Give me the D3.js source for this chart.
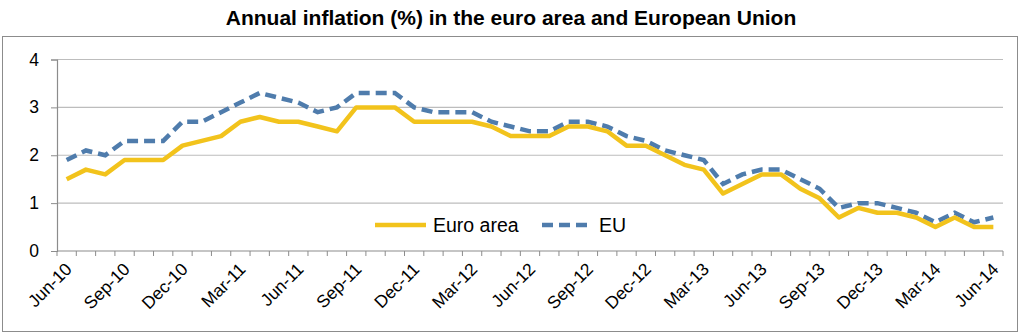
<!DOCTYPE html>
<html>
<head>
<meta charset="utf-8">
<script src="https://cdn.jsdelivr.net/npm/d3@7"></script>
<style>
body { margin: 0; background: #fff; font-family: "Liberation Sans", Arial, sans-serif; }
</style>
</head>
<body>
<script>
var width = 1024
var height = 334

// monthly, Jun-10 .. Jun-14
var months = ["Jun-10","Jul-10","Aug-10","Sep-10","Oct-10","Nov-10","Dec-10",
    "Jan-11","Feb-11","Mar-11","Apr-11","May-11","Jun-11","Jul-11","Aug-11","Sep-11","Oct-11","Nov-11","Dec-11",
    "Jan-12","Feb-12","Mar-12","Apr-12","May-12","Jun-12","Jul-12","Aug-12","Sep-12","Oct-12","Nov-12","Dec-12",
    "Jan-13","Feb-13","Mar-13","Apr-13","May-13","Jun-13","Jul-13","Aug-13","Sep-13","Oct-13","Nov-13","Dec-13",
    "Jan-14","Feb-14","Mar-14","Apr-14","May-14","Jun-14"]

var euroArea = [1.5,1.7,1.6,1.9,1.9,1.9,2.2,
    2.3,2.4,2.7,2.8,2.7,2.7,2.6,2.5,3.0,3.0,3.0,2.7,
    2.7,2.7,2.7,2.6,2.4,2.4,2.4,2.6,2.6,2.5,2.2,2.2,
    2.0,1.8,1.7,1.2,1.4,1.6,1.6,1.3,1.1,0.7,0.9,0.8,
    0.8,0.7,0.5,0.7,0.5,0.5]

var eu = [1.9,2.1,2.0,2.3,2.3,2.3,2.7,
    2.7,2.9,3.1,3.3,3.2,3.1,2.9,3.0,3.3,3.3,3.3,3.0,
    2.9,2.9,2.9,2.7,2.6,2.5,2.5,2.7,2.7,2.6,2.4,2.3,
    2.1,2.0,1.9,1.4,1.6,1.7,1.7,1.5,1.3,0.9,1.0,1.0,
    0.9,0.8,0.6,0.8,0.6,0.7]

var yTicks = [0, 1, 2, 3, 4]

var svg = d3.select("body")
    .append("svg")
    .attr("width", width)
    .attr("height", height)

// outer frame
svg.append("rect")
    .attr("x", 2.5).attr("y", 36.5)
    .attr("width", 1015).attr("height", 295)
    .attr("fill", "none")
    .attr("stroke", "#8c8c8c")
    .attr("stroke-width", 1)

svg.append("text")
    .attr("x", 511).attr("y", 25)
    .attr("text-anchor", "middle")
    .style("font-size", "21px")
    .style("font-weight", "bold")
    .text("Annual inflation (%) in the euro area and European Union")

var pLeft = 57, pRight = 1003, pTop = 59.5, pBottom = 251

var x_scale = d3.scaleBand()
    .domain(months)
    .range([pLeft, pRight])

var y_scale = d3.scaleLinear()
    .domain([0, 4])
    .range([pBottom, pTop])

// gridlines
svg.append("g")
    .selectAll("line")
    .data(yTicks.filter(d => d > 0))
    .enter()
    .append("line")
    .attr("x1", pLeft).attr("x2", pRight)
    .attr("y1", d => y_scale(d)).attr("y2", d => y_scale(d))
    .attr("stroke", "#bdbdbd")
    .attr("stroke-width", 1.2)

// y axis
var yAxis = svg.append("g")
    .attr("transform", "translate(" + pLeft + ",0)")
    .call(d3.axisLeft(y_scale).tickValues(yTicks).tickSize(6).tickPadding(12).tickFormat(d3.format("d")))
yAxis.select(".domain").attr("stroke", "#8c8c8c").attr("stroke-width", 1.2)
yAxis.selectAll(".tick line").attr("stroke", "#8c8c8c")
yAxis.selectAll("text").style("font-size", "17.5px").style("font-family", "Liberation Sans, Arial, sans-serif").attr("fill", "#000")

// x axis: ticks at category boundaries
var xg = svg.append("g")
xg.append("line")
    .attr("x1", pLeft).attr("x2", pRight)
    .attr("y1", pBottom).attr("y2", pBottom)
    .attr("stroke", "#8c8c8c").attr("stroke-width", 1.2)
xg.selectAll("line.tk")
    .data(months.concat(["end"]))
    .enter()
    .append("line")
    .attr("class", "tk")
    .attr("x1", (d, i) => pLeft + i * x_scale.step())
    .attr("x2", (d, i) => pLeft + i * x_scale.step())
    .attr("y1", pBottom).attr("y2", pBottom + 5)
    .attr("stroke", "#8c8c8c")

xg.selectAll("text")
    .data(months.filter((d, i) => i % 3 === 0))
    .enter()
    .append("text")
    .attr("transform", d => "translate(" + (x_scale(d) + x_scale.bandwidth() / 2 + 2) + "," + (pBottom + 15) + ") rotate(-45)")
    .attr("text-anchor", "end")
    .attr("dy", "0.35em")
    .style("font-size", "17.5px")
    .text(d => d)

var cx = (d, i) => x_scale(months[i]) + x_scale.bandwidth() / 2

var line = d3.line()
    .x((d, i) => cx(d, i))
    .y(d => y_scale(d))

svg.append("path")
    .datum(eu)
    .attr("d", line)
    .attr("fill", "none")
    .attr("stroke", "#4f7cac")
    .attr("stroke-width", 4.5)
    .attr("stroke-dasharray", "11,6")

svg.append("path")
    .datum(euroArea)
    .attr("d", line)
    .attr("fill", "none")
    .attr("stroke", "#f2c31c")
    .attr("stroke-width", 4.5)
    .attr("stroke-linejoin", "round")

// legend
var legend = svg.append("g")
legend.append("line")
    .attr("x1", 375).attr("x2", 426).attr("y1", 225).attr("y2", 225)
    .attr("stroke", "#f2c31c").attr("stroke-width", 4.5)
legend.append("text")
    .attr("x", 433).attr("y", 232)
    .style("font-size", "19.5px")
    .text("Euro area")
legend.append("line")
    .attr("x1", 542).attr("x2", 590).attr("y1", 225).attr("y2", 225)
    .attr("stroke", "#4f7cac").attr("stroke-width", 4.5)
    .attr("stroke-dasharray", "11,6")
legend.append("text")
    .attr("x", 599).attr("y", 232)
    .style("font-size", "19.5px")
    .text("EU")
</script>
</body>
</html>
